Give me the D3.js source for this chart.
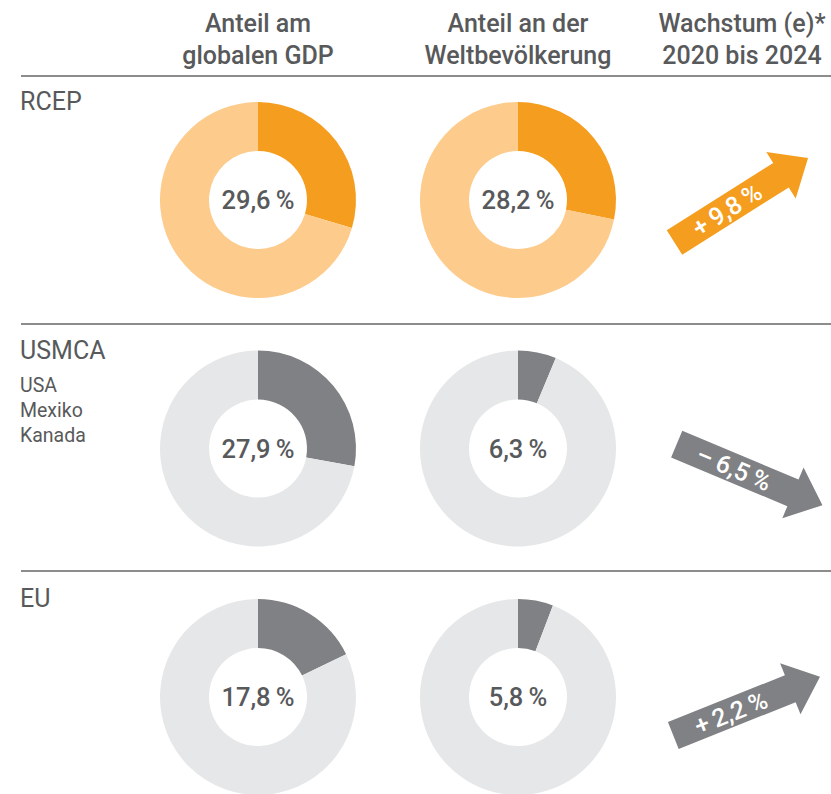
<!DOCTYPE html>
<html><head><meta charset="utf-8">
<script src="https://cdn.jsdelivr.net/npm/d3@7"></script>
<style>html,body{margin:0;padding:0;background:#fff}svg{display:block}</style>
</head><body>
<script>
// ---- data ----
const blocs = ["RCEP", "USMCA", "EU"];
const members = [[], ["USA", "Mexiko", "Kanada"], []];
const gdpShare = [29.6, 27.9, 17.8];
const popShare = [28.2, 6.3, 5.8];
const growth = [9.8, -6.5, 2.2];
const headers = [["Anteil am", "globalen GDP"], ["Anteil an der", "Weltbevölkerung"], ["Wachstum (e)*", "2020 bis 2024"]];

// ---- styles ----
const W = 831, H = 794;
const textCol = "#58595B";
const palettes = {
  RCEP: {dark: "#F59D1E", light: "#FDCB8B"},
  other: {dark: "#808184", light: "#E6E7E8"}
};
const arrowAngle = [-32.3, 22.7, -21.8];
const font = "Roboto, 'Open Sans', sans-serif";
const fmt = v => (v < 0 ? "\u2013\u2009" : (v > 0 ? "+\u2009" : "")) + d3.format(".1f")(Math.abs(v)).replace(".", ",") + "\u2009%";
const fmtShare = v => d3.format(".1f")(v).replace(".", ",") + "\u2009%";

const svg = d3.select("body").append("svg").attr("width", W).attr("height", H);

const xDonut = d3.scaleOrdinal().domain([0, 1, 2]).range([258, 518, 742]);
const y = d3.scalePoint().domain(blocs).range([200, 697]);

// headers
headers.forEach((lines, i) => {
  const t = svg.append("text").attr("text-anchor", "middle").attr("fill", textCol)
    .attr("font-family", font).attr("font-size", 25).attr("font-weight", 500);
  lines.forEach((l, j) => t.append("tspan").attr("x", xDonut(i)).attr("y", 32 + j * 31.5).text(l));
});

// separator lines
[76, 324, 571].forEach(ly => svg.append("line").attr("x1", 21).attr("x2", W).attr("y1", ly).attr("y2", ly)
  .attr("stroke", "#8C8C8C").attr("stroke-width", 2));

// row labels
blocs.forEach((b, i) => {
  const base = y(b) - 90;
  svg.append("text").attr("x", 20).attr("y", base).attr("fill", textCol)
    .attr("font-family", font).attr("font-size", 25).attr("font-weight", 400).text(b);
  members[i].forEach((m, j) => svg.append("text").attr("x", 20).attr("y", base + 33 + j * 25)
    .attr("fill", textCol).attr("font-family", font).attr("font-size", 19.5).attr("font-weight", 400).text(m));
});

// donuts
const pie = d3.pie().sort(null).value(d => d);
const arc = d3.arc().innerRadius(49).outerRadius(98);
blocs.forEach((b, i) => {
  const pal = b === "RCEP" ? palettes.RCEP : palettes.other;
  [gdpShare[i], popShare[i]].forEach((v, c) => {
    const g = svg.append("g").attr("transform", `translate(${xDonut(c)},${y(b)})`);
    g.selectAll("path").data(pie([v, 100 - v])).join("path")
      .attr("d", arc).attr("fill", (d, k) => k === 0 ? pal.dark : pal.light);
    g.append("text").attr("text-anchor", "middle").attr("dy", "0.36em").attr("fill", textCol)
      .attr("font-family", font).attr("font-size", 25.5).attr("font-weight", 500).text(fmtShare(v));
  });
});

// arrows
const L = 158, hw = 14.5, HW = 27.5, hl = 32;
const arrowPts = [[0, -hw], [L - hl, -hw], [L - hl, -HW], [L, 0], [L - hl, HW], [L - hl, hw], [0, hw]];
const tails = [[674.5, 42.5], [676.7, -4.3], [673.3, 38.5]];
blocs.forEach((b, i) => {
  const pal = b === "RCEP" ? palettes.RCEP : palettes.other;
  const g = svg.append("g").attr("transform", `translate(${tails[i][0]},${y(b) + tails[i][1]}) rotate(${arrowAngle[i]})`);
  g.append("polygon").attr("points", arrowPts.map(p => p.join(",")).join(" ")).attr("fill", pal.dark);
  g.append("text").attr("x", 62).attr("y", 0).attr("dy", "0.36em").attr("text-anchor", "middle")
    .attr("fill", "#fff").attr("font-family", font).attr("font-size", 25).attr("font-weight", 500)
    .text(fmt(growth[i]));
});
</script>
</body></html>
